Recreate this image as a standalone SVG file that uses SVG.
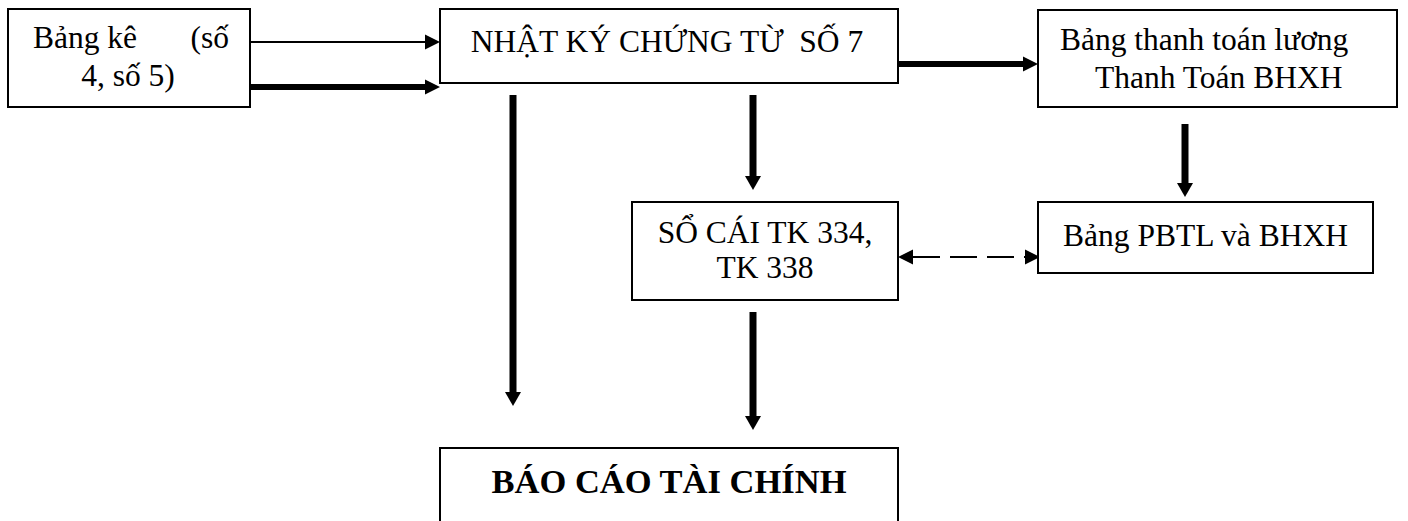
<svg xmlns="http://www.w3.org/2000/svg" width="1408" height="521" viewBox="0 0 1408 521">
<style>
.box{fill:#fff;stroke:#000;stroke-width:2}
.t{font-family:"Liberation Serif","Times New Roman",serif;font-size:31.5px;fill:#000;white-space:pre}
.b{font-weight:bold;font-size:34.5px}
.m{text-anchor:middle}
.e{text-anchor:end}
.c{fill:none;stroke:#000}
.thin{stroke-width:2}
.thick{stroke-width:6}
.vert{stroke-width:7}
.dash{stroke-width:2;stroke-dasharray:27 10}
</style>
<defs>
<marker id="ah" markerUnits="userSpaceOnUse" markerWidth="16" markerHeight="16" refX="0" refY="7.5" orient="auto-start-reverse" overflow="visible">
<path d="M0,0 L15,7.5 L0,15 z" fill="#000"/>
</marker>
<marker id="ahv" markerUnits="userSpaceOnUse" markerWidth="18" markerHeight="18" refX="0" refY="8" orient="auto" overflow="visible">
<path d="M0,0 L14,8 L0,16 z" fill="#000"/>
</marker>
</defs>
<rect width="1408" height="521" fill="#fff"/>
<g id="connectors">
<line class="c thin" x1="251" y1="42" x2="425" y2="42" marker-end="url(#ah)"/>
<line class="c thick" x1="251" y1="87" x2="425" y2="87" marker-end="url(#ah)"/>
<line class="c thick" x1="899" y1="64" x2="1023" y2="64" marker-end="url(#ah)"/>
<line class="c vert" x1="513" y1="95" x2="513" y2="392" marker-end="url(#ahv)"/>
<line class="c vert" x1="753" y1="95" x2="753" y2="176" marker-end="url(#ahv)"/>
<line class="c vert" x1="753" y1="312" x2="753" y2="416" marker-end="url(#ahv)"/>
<line class="c vert" x1="1185" y1="124" x2="1185" y2="183" marker-end="url(#ahv)"/>
<line class="c dash" x1="913" y1="257" x2="1025" y2="257" marker-start="url(#ah)" marker-end="url(#ah)"/>
</g>
<g id="bang-ke">
<rect class="box" x="8" y="9" width="242" height="98"/>
<text class="t" x="33" y="48">Bảng kê</text>
<text class="t e" x="229" y="48">(số</text>
<text class="t m" x="128" y="86">4, số 5)</text>
</g>
<g id="nhat-ky">
<rect class="box" x="440" y="9" width="458" height="74"/>
<text class="t m" x="667" y="52">NHẬT KÝ CHỨNG TỪ  SỐ 7</text>
</g>
<g id="bang-thanh-toan">
<rect class="box" x="1038" y="10" width="359" height="97"/>
<text class="t" x="1060" y="50">Bảng thanh toán lương</text>
<text class="t" x="1095" y="88">Thanh Toán BHXH</text>
</g>
<g id="bang-pbtl">
<rect class="box" x="1038" y="202" width="335" height="71"/>
<text class="t m" x="1205.5" y="246">Bảng PBTL và BHXH</text>
</g>
<g id="so-cai">
<rect class="box" x="632" y="202" width="266" height="98"/>
<text class="t m" x="765" y="243">SỔ CÁI TK 334,</text>
<text class="t m" x="765" y="278">TK 338</text>
</g>
<g id="bao-cao">
<rect class="box" x="440" y="448" width="458" height="90"/>
<text class="t b m" x="669" y="493">BÁO CÁO TÀI CHÍNH</text>
</g>
</svg>
